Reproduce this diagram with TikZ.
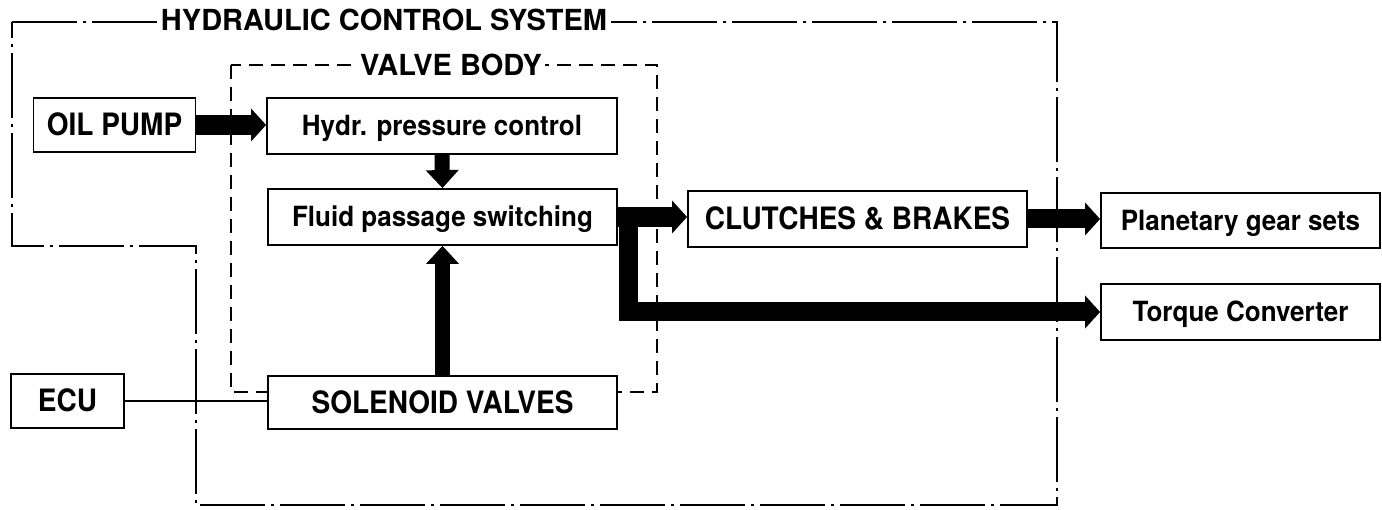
\documentclass[tikz,border=0pt]{standalone}
\usepackage{fontspec}
\setmainfont{TeX Gyre Heros}
\usetikzlibrary{arrows.meta,calc}
\newcommand{\tallcap}[1]{\scalebox{1}[1.1]{#1}}
\newcommand{\talllow}[1]{\scalebox{1}[1.07]{#1}}
\begin{document}
\begin{tikzpicture}[x=1pt,y=-1pt,
  box/.style={draw,line width=1.8pt,fill=white,inner sep=0pt,
    font=\bfseries\fontsize{26}{30}\selectfont,text height=20pt,text depth=0pt},
  capbox/.style={box,font=\bfseries\fontsize{28}{32}\selectfont,text height=22pt},
  titlelabel/.style={fill=white,inner sep=4pt,font=\bfseries\fontsize{29}{33}\selectfont,text height=21pt,text depth=0pt},
  bigarrow/.style={line width=20pt,line join=miter,-{Triangle[length=15pt,width=32pt]}},
  vertarrow/.style={line width=15pt,-{Triangle[length=18pt,width=32pt]}},
  hcsline/.style={line width=1.5pt,dash pattern=on 65pt off 6pt on 3pt off 6pt},
  vbline/.style={line width=1.5pt,dash pattern=on 14pt off 8pt},
  signal/.style={line width=1.5pt}]
\useasboundingbox (0,0) rectangle (1382,510);

% outlines
\coordinate (h1) at (12,22);
\coordinate (h2) at (1057,22);
\coordinate (h3) at (1057,505);
\coordinate (h4) at (196,505);
\coordinate (h5) at (196,246);
\coordinate (h6) at (12,246);
\draw[hcsline] (h1) -- (h2) -- (h3) -- (h4) -- (h5) -- (h6) -- cycle;
\node[titlelabel] (hcs) at (384,20) {HYDRAULIC CONTROL SYSTEM};

\coordinate (v1) at (231,65);
\coordinate (v2) at (657,392);
\draw[vbline] (v1) rectangle (v2);
\node[titlelabel,inner sep=3pt] (vb) at (451,65) {VALVE BODY};

% boxes
\node[capbox,minimum width=162pt,minimum height=54pt] (oil) at (114.5,125) {\tallcap{OIL PUMP}};
\node[box,minimum width=350pt,minimum height=56pt] (hydr) at (442,126) {\talllow{Hydr. pressure control}};
\node[box,minimum width=349pt,minimum height=56pt] (fluid) at (442.5,217) {\talllow{Fluid passage switching}};
\node[capbox,minimum width=349pt,minimum height=53pt] (sol) at (442.5,402.5) {\tallcap{SOLENOID VALVES}};
\node[capbox,minimum width=113pt,minimum height=54pt] (ecu) at (67.5,401) {\tallcap{ECU}};
\node[capbox,minimum width=339pt,minimum height=56pt] (clutch) at (857.5,219) {\tallcap{CLUTCHES \& BRAKES}};
\node[box,minimum width=279pt,minimum height=55pt] (planet) at (1240.5,220.5) {\talllow{Planetary gear sets}};
\node[box,minimum width=279pt,minimum height=56pt] (torque) at (1240.5,312) {\talllow{Torque Converter}};

% connectors
\draw[bigarrow] (oil.east) -- (oil.east -| hydr.west);
\draw[vertarrow] (hydr.south) -- (fluid.north);
\draw[vertarrow] (sol.north) -- (fluid.south);
\draw[bigarrow] (fluid.east) -- (fluid.east -| clutch.west);
\coordinate (branch) at ($(fluid.east)+(11,0)$);
\draw[bigarrow,line width=19pt] (branch) |- (torque.west);
\draw[bigarrow,line width=19pt] (clutch.east) -- (clutch.east -| planet.west);
\draw[signal] (ecu.east) -- (ecu.east -| sol.west);
\end{tikzpicture}
\end{document}
